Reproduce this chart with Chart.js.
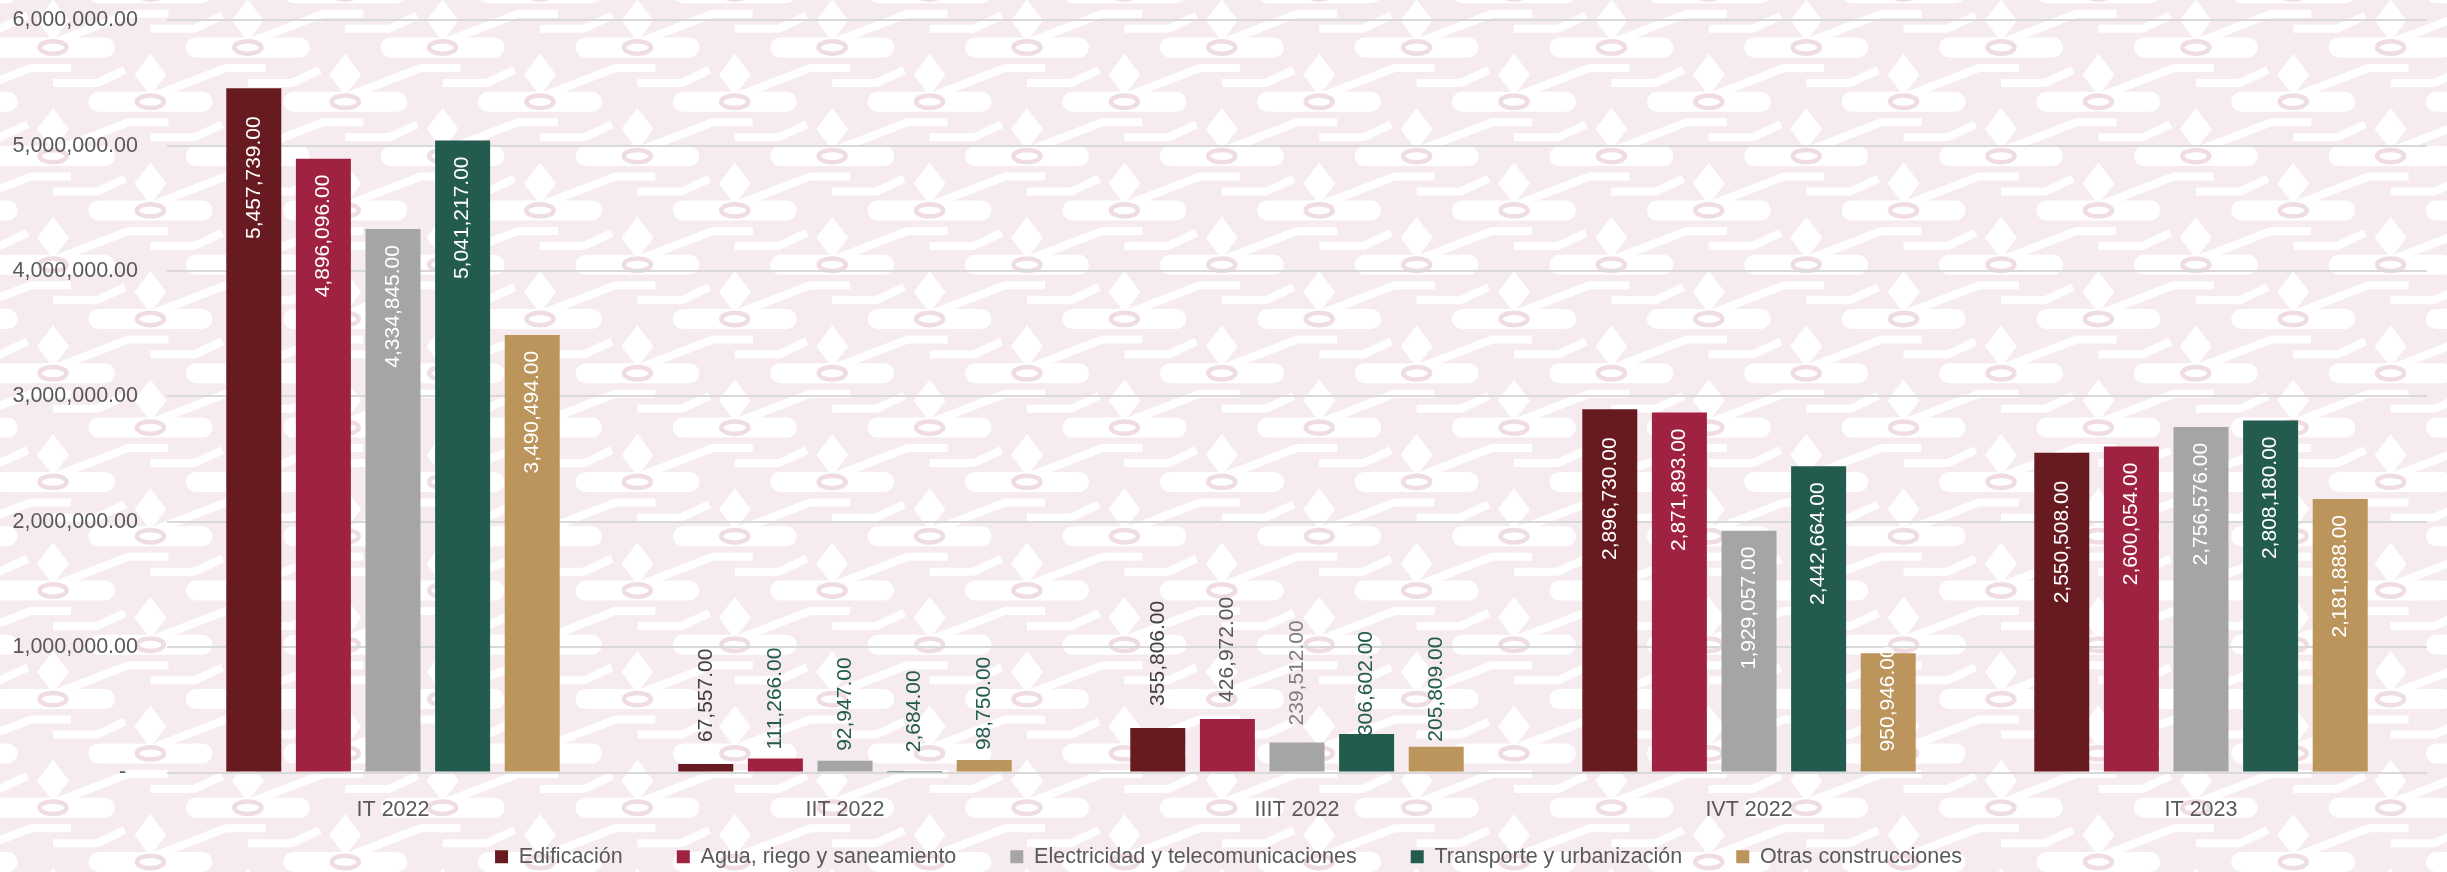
<!DOCTYPE html>
<html>
<head>
<meta charset="utf-8">
<script src="https://cdn.jsdelivr.net/npm/chart.js@4"></script>
<style>
  html, body { margin: 0; padding: 0; background: #ffffff; }
  #wrap { width: 2447px; height: 872px; position: relative; }
  canvas { display: block; }
</style>
</head>
<body>
<div id="wrap"><canvas id="c" width="2447" height="872" style="width:2447px;height:872px"></canvas></div>
<script>
// ---------------- DATA ----------------
const categories = ['IT 2022', 'IIT 2022', 'IIIT 2022', 'IVT 2022', 'IT 2023'];
const seriesNames = ['Edificación', 'Agua, riego y saneamiento', 'Electricidad y telecomunicaciones', 'Transporte y urbanización', 'Otras construcciones'];
const edificacion  = [5457739,   67557, 355806, 2896730, 2550508];
const agua         = [4896096,  111266, 426972, 2871893, 2600054];
const electricidad = [4334845,   92947, 239512, 1929057, 2756576];
const transporte   = [5041217,    2684, 306602, 2442664, 2808180];
const otras        = [3490494,   98750, 205809,  950946, 2181888];
const yTickValues  = [0, 1000000, 2000000, 3000000, 4000000, 5000000, 6000000];

// ---------------- STYLE ----------------
const seriesColors = ['#671b20', '#9f2241', '#a5a5a5', '#235b4e', '#bc955c'];
const FONT = 'Liberation Sans';
const TEXT = '#595959';
const GREEN = '#235b4e';

function fmt(v) {
  return v.toLocaleString('en-US', { minimumFractionDigits: 2, maximumFractionDigits: 2 });
}

// ---------------- BACKGROUND PATTERN ----------------
function drawPattern(ctx, w, h) {
  const x0 = 53, y0 = 47.5, px = 194.8, py = 108.6;
  const hx = px / 2, hy = py / 2;
  ctx.save();
  ctx.fillStyle = '#f6ebef';
  ctx.fillRect(0, 0, w, h);
  for (let j = -3; y0 + j * hy < h + py; j++) {
    const cy = y0 + j * hy;
    const par = ((j % 2) + 2) % 2;
    for (let i = -2; x0 + i * px < w + px; i++) {
      const cx = x0 + i * px + par * hx;
      ctx.fillStyle = '#ffffff';
      // white capsule around the ring
      ctx.beginPath();
      ctx.roundRect(cx - 62, cy - 10, 124, 20, 10);
      ctx.fill();
      // white diamond above the ring
      ctx.beginPath();
      ctx.moveTo(cx - 16, cy - 27);
      ctx.lineTo(cx, cy - 48);
      ctx.lineTo(cx + 16, cy - 27);
      ctx.lineTo(cx, cy - 6);
      ctx.closePath();
      ctx.fill();
      // white strokes inside the lobe below
      const ly = cy + 27.5;
      ctx.strokeStyle = '#ffffff';
      ctx.lineWidth = 8;
      ctx.lineJoin = 'round';
      ctx.beginPath();
      ctx.moveTo(cx - 92, ly + 20);
      ctx.lineTo(cx - 22, ly - 7);
      ctx.lineTo(cx + 18, ly - 7);
      ctx.stroke();
      ctx.beginPath();
      ctx.moveTo(cx + 0, ly + 8);
      ctx.lineTo(cx + 44, ly + 8);
      ctx.lineTo(cx + 72, ly - 5);
      ctx.stroke();
      // ring
      ctx.strokeStyle = '#efdde3';
      ctx.lineWidth = 4.5;
      ctx.beginPath();
      ctx.ellipse(cx, cy, 13.5, 6.2, 0, 0, Math.PI * 2);
      ctx.stroke();
    }
  }
  ctx.restore();
}

const bgPlugin = {
  id: 'bgPattern',
  beforeDraw(chart) {
    drawPattern(chart.ctx, chart.width, chart.height);
  }
};

// ---------------- DATA LABELS ----------------
const labelPlugin = {
  id: 'barLabels',
  afterDatasetsDraw(chart, args, opts) {
    const ctx = chart.ctx;
    ctx.save();
    ctx.font = opts.font;
    ctx.textBaseline = 'middle';
    chart.data.datasets.forEach((ds, di) => {
      const meta = chart.getDatasetMeta(di);
      meta.data.forEach((bar, i) => {
        const v = ds.data[i];
        const txt = fmt(v);
        const tw = ctx.measureText(txt).width;
        const top = bar.y, h = bar.base - bar.y;
        const ov = opts.overrides[di + ':' + i] || {};
        ctx.save();
        if (h > tw + 10) {
          const off = (ov.offset !== undefined) ? ov.offset : opts.insideOffset[di];
          ctx.translate(bar.x, top + off);
          ctx.rotate(-Math.PI / 2);
          ctx.textAlign = 'right';
          ctx.fillStyle = ov.color || opts.insideColor;
        } else {
          const gap = (ov.offset !== undefined) ? ov.offset : opts.outsideGap[di];
          ctx.translate(bar.x, top - gap);
          ctx.rotate(-Math.PI / 2);
          ctx.textAlign = 'left';
          ctx.fillStyle = ov.color || opts.outsideColor;
        }
        ctx.fillText(txt, 0, 0);
        ctx.restore();
      });
    });
    ctx.restore();
  }
};

// ---------------- CHART ----------------
const seriesData = [edificacion, agua, electricidad, transporte, otras];
const datasets = seriesNames.map((name, k) => ({
  label: name,
  data: seriesData[k],
  backgroundColor: seriesColors[k],
  borderWidth: 0
}));

new Chart(document.getElementById('c'), {
  type: 'bar',
  data: { labels: categories, datasets },
  options: {
    responsive: false,
    animation: false,
    devicePixelRatio: 1,
    layout: { padding: { top: 20.3, right: 20, bottom: 0, left: 30 } },
    datasets: { bar: { categoryPercentage: 0.77, barPercentage: 0.79 } },
    scales: {
      x: {
        grid: { display: false, drawTicks: false },
        border: { display: false },
        ticks: { color: TEXT, font: { family: FONT, size: 21.5 }, padding: 24.5 },
        afterFit(s) {
          s.height = 19.5; s.paddingLeft = 0; s.paddingRight = 0;
          s._computeLabelArea = function () { return undefined; };
        }
      },
      y: {
        min: 0,
        max: 6000000,
        afterBuildTicks(s) { s.ticks = yTickValues.map(v => ({ value: v })); },
        ticks: {
          padding: 29,
          color: TEXT,
          font: { family: FONT, size: 21.5 },
          callback: (v) => v === 0 ? '-  ' : fmt(v)
        },
        grid: { color: '#d9d9d9', lineWidth: 2, drawTicks: false },
        border: { display: false },
        afterFit(s) {
          s.width = 137; s.paddingTop = 0; s.paddingBottom = 0;
          s._computeLabelArea = function () { return undefined; };
        }
      }
    },
    plugins: {
      legend: {
        position: 'bottom',
        maxHeight: 80,
        labels: {
          boxWidth: 13,
          boxHeight: 13,
          padding: 54,
          color: TEXT,
          font: { family: FONT, size: 21.5 }
        }
      },
      tooltip: { enabled: false },
      barLabels: {
        font: '21px "' + FONT + '"',
        insideColor: '#ffffff',
        outsideColor: '#404040',
        insideOffset: [28, 16, 16, 16, 16],
        outsideGap: [22, 10, 10, 10, 10],
        overrides: {
          '1:1': { color: GREEN, offset: 9 },
          '2:1': { color: GREEN },
          '3:1': { color: GREEN, offset: 20 },
          '4:1': { color: GREEN },
          '1:2': { color: '#595959', offset: 17 },
          '2:2': { color: '#7f7f7f', offset: 17 },
          '3:2': { color: GREEN, offset: -2 },
          '4:2': { color: GREEN, offset: 5 },
          '4:3': { offset: -7 }
        }
      }
    }
  },
  plugins: [bgPlugin, labelPlugin]
});
</script>
</body>
</html>
